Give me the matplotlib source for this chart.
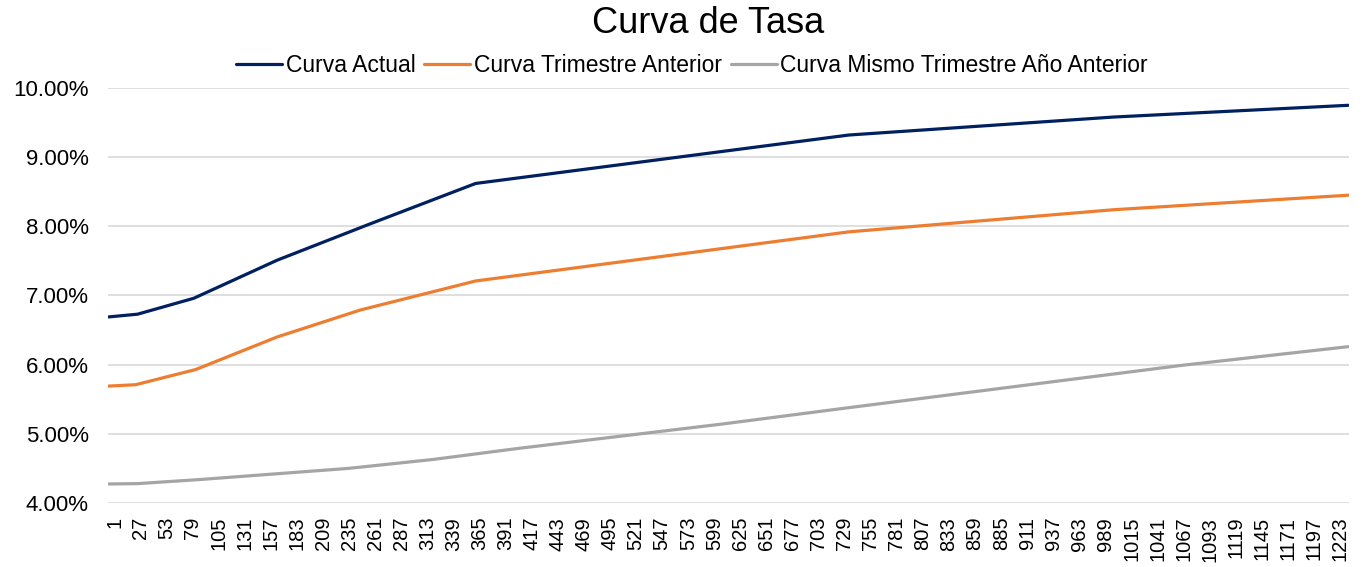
import matplotlib
matplotlib.use("Agg")
import matplotlib.pyplot as plt
from matplotlib.ticker import FuncFormatter
from matplotlib.transforms import ScaledTranslation

plt.rcParams['font.family'] = ['Liberation Sans', 'DejaVu Sans']

# Day count of the curve (category axis 1..N)
n_days = 1237
x_ticks = list(range(1, 1224, 26))

# Knots (day, rate %)
actual_days = [1, 30, 86, 169, 259, 367, 739, 1003, 1237]
actual_rate = [6.69, 6.73, 6.96, 7.51, 8.02, 8.62, 9.32, 9.58, 9.75]

prev_q_days = [1, 28, 88, 169, 252, 367, 739, 1003, 1237]
prev_q_rate = [5.69, 5.71, 5.93, 6.40, 6.79, 7.21, 7.92, 8.24, 8.45]

prev_y_days = [1, 30, 93, 240, 325, 410, 612, 740, 1071, 1237]
prev_y_rate = [4.275, 4.28, 4.34, 4.50, 4.63, 4.79, 5.14, 5.38, 5.99, 6.26]

series = [
    ("Curva Actual", actual_days, actual_rate, "#002060"),
    ("Curva Trimestre Anterior", prev_q_days, prev_q_rate, "#ED7D31"),
    ("Curva Mismo Trimestre Año Anterior", prev_y_days, prev_y_rate, "#A5A5A5"),
]

fig = plt.figure(figsize=(13.61, 5.67), dpi=100)
ax = fig.add_axes([0.0794, 0.1129, 0.9116, 0.7319])

for name, d, r, c in series:
    ax.plot(d, r, color=c, lw=2.3, label=name, solid_capstyle='round')

ax.set_xlim(0.5, n_days + 0.5)
ax.set_ylim(4, 10)
ax.set_yticks([4, 5, 6, 7, 8, 9, 10])
ax.yaxis.set_major_formatter(FuncFormatter(lambda v, p: f"{v:.2f}%"))
ax.set_xticks(x_ticks)
ax.set_xticklabels([str(t) for t in x_ticks], rotation=90, fontsize=14.5)
ax.tick_params(axis='y', labelsize=16, length=0, pad=14)
ax.tick_params(axis='x', length=0, pad=10)
for lab in ax.get_xticklabels():
    lab.set_transform(lab.get_transform() + ScaledTranslation(6 / 100, 0, fig.dpi_scale_trans))

ax.grid(axis='y', color='#D9D9D9', lw=1.2)
ax.set_axisbelow(True)
for s in ax.spines.values():
    s.set_visible(False)

fig.text(708 / 1361, 0.958, "Curva de Tasa", ha='center', va='center', fontsize=26)
fig.legend(loc='center', bbox_to_anchor=(692 / 1361, 0.884), ncol=3, frameon=False,
           fontsize=16.5, handlelength=2.0, handletextpad=0.15, columnspacing=0.4)

fig.savefig("out.png", dpi=100)
